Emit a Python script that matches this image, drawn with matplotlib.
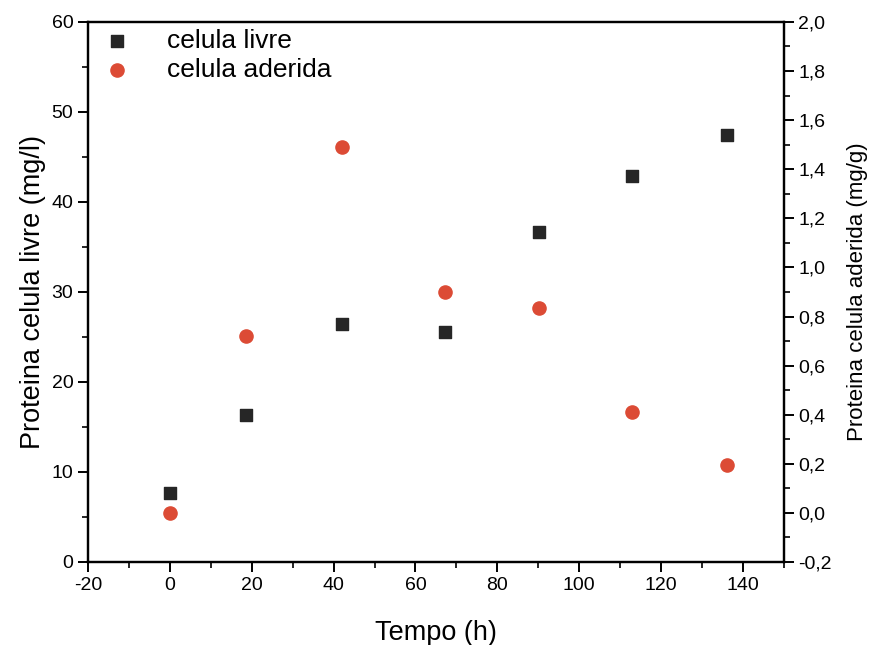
import matplotlib
matplotlib.use("Agg")
import matplotlib.pyplot as plt
from matplotlib.ticker import MultipleLocator, FuncFormatter

plt.rcParams['font.family'] = ['Liberation Sans', 'DejaVu Sans']
plt.rcParams['axes.unicode_minus'] = False

tempo = [0, 18.7, 42.1, 67.2, 90.1, 113, 136.1]
livre = [7.7, 16.3, 26.4, 25.6, 36.7, 42.9, 47.4]
aderida = [0.0, 0.72, 1.49, 0.90, 0.835, 0.41, 0.195]

fig = plt.figure(figsize=(8.71, 6.45), dpi=100)
ax = fig.add_axes([0.101, 0.1287, 0.799, 0.8373])
ax2 = ax.twinx()

s1 = ax.scatter(tempo, livre, marker='s', s=72, color='#262626', zorder=3, label='celula livre')
s2 = ax2.scatter(tempo, aderida, marker='o', s=90, color='#dc4b35', zorder=3, label='celula aderida')

ax.set_xlim(-20, 150)
ax.set_ylim(0, 60)
ax2.set_ylim(-0.2, 2.0)

ax.xaxis.set_major_locator(MultipleLocator(20))
ax.xaxis.set_minor_locator(MultipleLocator(10))
ax.yaxis.set_major_locator(MultipleLocator(10))
ax.yaxis.set_minor_locator(MultipleLocator(5))
ax2.yaxis.set_major_locator(MultipleLocator(0.2))
ax2.yaxis.set_minor_locator(MultipleLocator(0.1))
ax2.yaxis.set_major_formatter(FuncFormatter(lambda v, p: f"{v:.1f}".replace('.', ',').replace('-0,0', '0,0')))

for a in (ax, ax2):
    for sp in a.spines.values():
        sp.set_linewidth(1.6)
    a.tick_params(which='major', direction='out', length=7, width=1.4, labelsize=14)
    a.tick_params(which='minor', direction='out', length=4, width=1.2)

ax.tick_params(axis='y', which='both', right=False)
ax.tick_params(axis='x', which='both', top=False)
ax2.tick_params(axis='y', which='both', left=False)

ax.set_xlabel('Tempo (h)', fontsize=19.5, labelpad=19)
ax.set_ylabel('Proteina celula livre (mg/l)', fontsize=19.5, labelpad=4)
ax2.set_ylabel('Proteina celula aderida (mg/g)', fontsize=16, labelpad=11)

ax.legend([s1, s2], ['celula livre', 'celula aderida'], loc='upper left',
          frameon=False, fontsize=19, bbox_to_anchor=(-0.015, 1.022),
          handletextpad=1.1, labelspacing=0.22, borderaxespad=0.3,
          handlelength=1.6)

fig.savefig('out.png', dpi=100)
